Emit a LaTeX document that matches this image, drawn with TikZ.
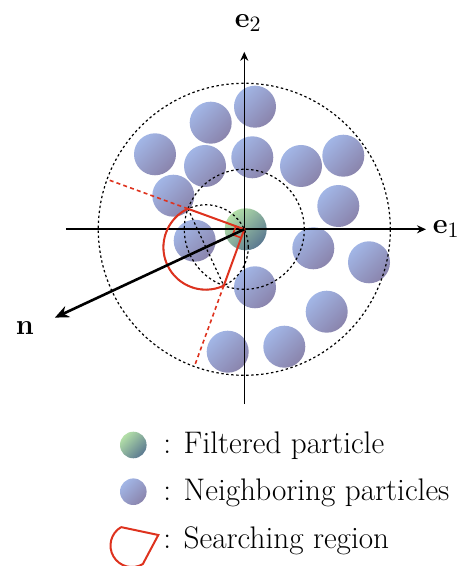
\documentclass[tikz,border=0pt]{standalone}
\usepackage{amsmath}
\usetikzlibrary{arrows.meta}
\definecolor{partblue}{HTML}{A2B6E6}
\definecolor{partblueshade}{HTML}{8A84AC}
\definecolor{partgreen}{HTML}{B4E0A8}
\definecolor{partgreenshade}{HTML}{5A7890}
\definecolor{searchred}{HTML}{DE321E}

\begin{document}
\begin{tikzpicture}[
  x=0.5pt,
  y=0.5pt,
  every node/.style={font=\fontsize{15.6}{19}\selectfont},
  axis/.style={black, line width=0.8pt, -{Stealth[length=4.5pt, width=4pt]}},
  normal/.style={black, line width=1.3pt, -{Stealth[length=7pt, width=6pt]}},
  ring/.style={black, line width=0.6pt, dash pattern=on 1.2pt off 1.3pt},
  ray/.style={searchred, line width=0.8pt, dash pattern=on 2pt off 1.6pt},
  region/.style={searchred, line width=1pt},
  neighbor/.style={top color=partblue, bottom color=partblueshade, shading angle=45},
  filtered/.style={top color=partgreen, bottom color=partgreenshade, shading angle=45}
]
  \useasboundingbox (-244.3,-336.7) rectangle (225.7,229.3);

  %% ---- particles -------------------------------------------------------
  \foreach \px/\py in {10.7/122.6, -33.6/106.6, -89.3/75, -39.3/63.3,
                       8/72, 56.7/63.3, 99/73.6, -71/33.6, 94/23.3,
                       -49.6/-11.4, 69/-19, 124.7/-33, 10.7/-58,
                       82.4/-82.4, -16.6/-122.4, 40/-117.4}
    \shade[neighbor] (\px,\py) circle (21);
  \shade[filtered] (1.4,0) circle (21);

  %% ---- rings and axes --------------------------------------------------
  \coordinate (O) at (0,0);
  \coordinate (pa) at (160:60);
  \coordinate (pb) at (250:60);
  \coordinate (pc) at (205:42.43);

  \draw[ring] (O) circle (146);
  \draw[ring] (O) circle (60);
  \draw[ring] (pc) circle (42.43);
  \draw[ring] (pa) -- (pb);

  \coordinate (xmin) at (-178.3,0);
  \coordinate (xmax) at (181.7,0);
  \coordinate (ymin) at (0,-174.7);
  \coordinate (ymax) at (0,177.5);
  \draw[axis] (xmin) -- (xmax);
  \draw[axis] (ymin) -- (ymax);
  \node (e1) at (202,0) {$\mathbf{e}_1$};
  \node (e2) at (4,206) {$\mathbf{e}_2$};

  %% ---- searching region ------------------------------------------------
  \draw[ray] (pa) -- (160:146);
  \draw[ray] (pb) -- (250:146);
  \draw[region] (O) -- (pa) arc[start angle=115, end angle=295, radius=42.43] -- cycle;
  \draw[region, line width=0.8pt] (160:9) -- ++(250:9) -- (250:9);

  \coordinate (ntip) at (205:209);
  \draw[normal] (O) -- (ntip);
  \node (n) at (-219.3,-98.7) {$\mathbf{n}$};

  %% ---- legend ----------------------------------------------------------
  \shade[filtered] (-111,-215.7) circle (13.3);
  \shade[neighbor] (-111,-262.4) circle (13.3);
  \draw[region] (-123.2,-297.8) -- (-86,-305.7) -- (-101.5,-334.8)
    arc[start angle=300.4, end angle=120.4, radius=21.45];
  \node[anchor=base west, inner sep=0pt] (lg1) at (-81.3,-224) {: Filtered particle};
  \node[anchor=base west, inner sep=0pt] (lg2) at (-81.3,-270.7) {: Neighboring particles};
  \node[anchor=base west, inner sep=0pt] (lg3) at (-81.3,-318.7) {: Searching region};

\end{tikzpicture}
\end{document}
